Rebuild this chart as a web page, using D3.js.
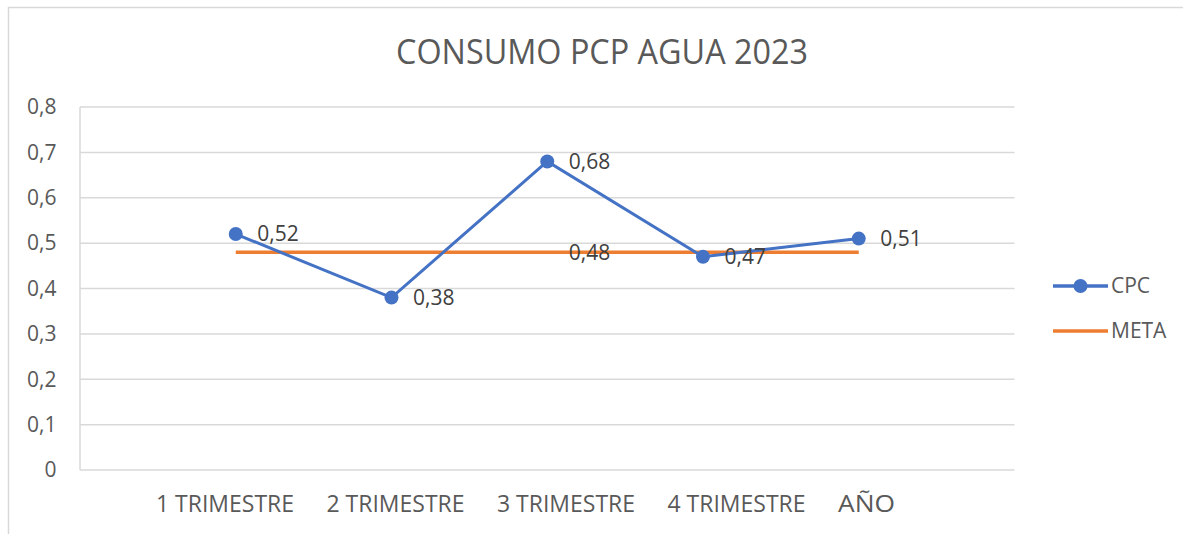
<!DOCTYPE html>
<html><head><meta charset="utf-8">
<script src="https://cdn.jsdelivr.net/npm/d3@7"></script>
<style>body{margin:0;background:#fff}svg{display:block}text{font-family:"Open Sans",sans-serif}</style>
</head><body>
<svg id="c" width="1183" height="534"></svg>
<script>
const categories = ["1 TRIMESTRE","2 TRIMESTRE","3 TRIMESTRE","4 TRIMESTRE","AÑO"];
const cpcValues = [0.52,0.38,0.68,0.47,0.51];
const cpcLabels = ["0,52","0,38","0,68","0,47","0,51"];
const metaValues = [0.48,0.48,0.48,0.48,0.48];
const metaLabels = ["","","0,48","",""];
const yTicks = [0,0.1,0.2,0.3,0.4,0.5,0.6,0.7,0.8];
const yTickLabels = ["0","0,1","0,2","0,3","0,4","0,5","0,6","0,7","0,8"];
const seriesNames = ["CPC","META"];
const colors = ["#4472C4","#ED7D31"];

const svg = d3.select("#c");
const L = 80, R = 1014.5, T = 107, B = 470;

svg.append("rect").attr("x",8.5).attr("y",7.5).attr("width",1300).attr("height",700)
  .attr("fill","none").attr("stroke","#d9d9d9").attr("stroke-width",1.5);

svg.append("text").attr("x",602).attr("y",63.5).attr("text-anchor","middle")
  .attr("font-size",34).attr("fill","#595959")
  .attr("textLength",412).attr("lengthAdjust","spacingAndGlyphs")
  .text("CONSUMO PCP AGUA 2023");

const y = d3.scaleLinear().domain([0,0.8]).range([B,T]);
// positions 0..6, categories at 1..5
const xi = d3.scaleLinear().domain([0,6]).range([L,R]);
const x = c => xi(categories.indexOf(c)+1);

// gridlines
svg.append("g").selectAll("line").data(yTicks.filter(d=>d>0)).join("line")
  .attr("x1",L).attr("x2",R).attr("y1",d=>y(d)).attr("y2",d=>y(d))
  .attr("stroke","#d9d9d9").attr("stroke-width",1.5);
// axes lines
svg.append("line").attr("x1",L).attr("x2",L).attr("y1",T).attr("y2",B).attr("stroke","#d9d9d9").attr("stroke-width",1.5);
svg.append("line").attr("x1",L).attr("x2",R).attr("y1",B).attr("y2",B).attr("stroke","#d9d9d9").attr("stroke-width",1.5);

// y labels
svg.append("g").selectAll("text").data(yTicks).join("text")
  .attr("x",56.5).attr("y",d=>y(d)).attr("dy","0.35em").attr("text-anchor","end")
  .attr("font-size",21).attr("fill","#595959").text((d,i)=>yTickLabels[i]);

// x labels
const xl = d3.scalePoint().domain(categories).range([156,838]);
svg.append("g").selectAll("text").data(categories).join("text")
  .attr("x",d=>xl(d)).attr("y",511.5).attr("text-anchor","start")
  .attr("font-size",23).attr("fill","#595959")
  .attr("textLength",d=>d==="AÑO"?57:138).attr("lengthAdjust","spacingAndGlyphs")
  .text(d=>d);

const line = d3.line().x(d=>x(d.c)).y(d=>y(d.v));
const metaData = categories.map((c,i)=>({c,v:metaValues[i],l:metaLabels[i]}));
const cpcData = categories.map((c,i)=>({c,v:cpcValues[i],l:cpcLabels[i]}));

svg.append("path").datum(metaData).attr("d",line).attr("fill","none")
  .attr("stroke",colors[1]).attr("stroke-width",3.5);
svg.append("path").datum(cpcData).attr("d",line).attr("fill","none")
  .attr("stroke",colors[0]).attr("stroke-width",3);
svg.append("g").selectAll("circle").data(cpcData).join("circle")
  .attr("cx",d=>x(d.c)).attr("cy",d=>y(d.v)).attr("r",7).attr("fill",colors[0]);

// data labels
svg.append("g").selectAll("text").data(cpcData).join("text")
  .attr("x",d=>x(d.c)+21.5).attr("y",d=>y(d.v)).attr("dy","0.35em")
  .attr("font-size",21).attr("fill","#404040").text(d=>d.l);
svg.append("g").selectAll("text").data(metaData.filter(d=>d.l)).join("text")
  .attr("x",d=>x(d.c)+21.5).attr("y",d=>y(d.v)).attr("dy","0.35em")
  .attr("font-size",21).attr("fill","#404040").text(d=>d.l);

// legend
const lg = svg.append("g");
seriesNames.forEach((n,i)=>{
  const ly = 286 + i*45;
  lg.append("line").attr("x1",1053).attr("x2",1108).attr("y1",ly).attr("y2",ly)
    .attr("stroke",colors[i]).attr("stroke-width",3.5);
  if(i===0) lg.append("circle").attr("cx",1080.5).attr("cy",ly).attr("r",7).attr("fill",colors[0]);
  lg.append("text").attr("x",1111).attr("y",ly).attr("dy","0.35em")
    .attr("font-size",21).attr("fill","#595959").text(n);
});
</script>
</body></html>
